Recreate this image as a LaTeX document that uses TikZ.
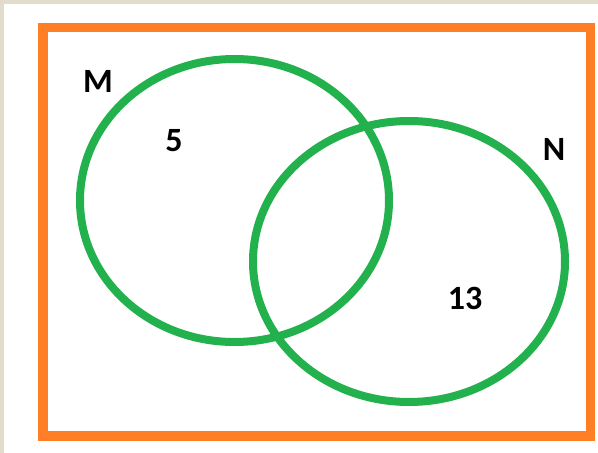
\documentclass[tikz,border=0pt]{standalone}
\usepackage{fontspec}
\setmainfont{Carlito}
\usepackage{xcolor}
\usepackage{tikz}
\definecolor{beigebg}{HTML}{E1DCCB}
\definecolor{orangeframe}{HTML}{FF7F27}
\definecolor{greenset}{HTML}{22B14C}
\tikzset{every node/.append style={font=\bfseries\fontsize{34}{40}\selectfont,text=black}}

\begin{document}
\begin{tikzpicture}[x=1pt,y=-1pt]
  \fill[beigebg] (0,0) rectangle (598,453);
  \fill[white] (4,4) rectangle (598,453);
  \useasboundingbox (0,0) rectangle (598,453);
  \draw[orangeframe,line width=9.5pt] (43,27.5) rectangle (590.5,436);
  \coordinate (M) at (234.5,200.5);
  \coordinate (N) at (409,261.5);
  \draw[greenset,line width=8pt] (M) ellipse [x radius=154.5pt,y radius=141.5pt];
  \draw[greenset,line width=8pt] (N) ellipse [x radius=156pt,y radius=140.5pt];
  \node (labM) at (98,81) {M};
  \node (labN) at (554,149) {N};
  \node (onlyM) at (174,141) {5};
  \node (onlyN) at (465,298) {13};
\end{tikzpicture}
\end{document}
